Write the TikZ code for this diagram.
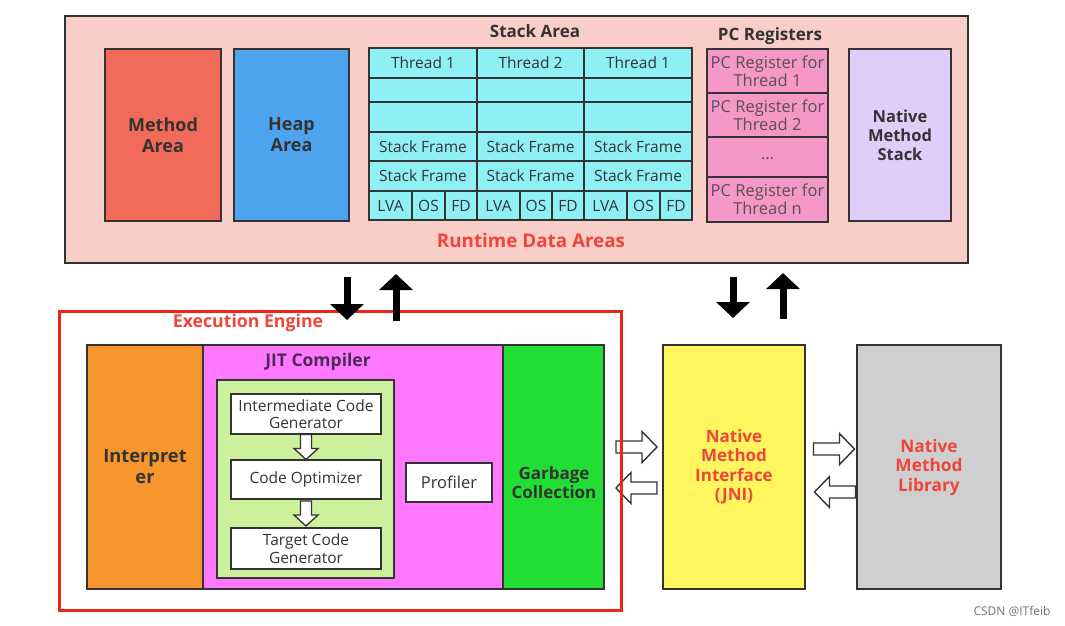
\documentclass[tikz,border=0pt]{standalone}
\usepackage{fontspec}
\setmainfont{Open Sans}
\usetikzlibrary{arrows.meta,calc}
\definecolor{edge}{HTML}{333333}
\definecolor{txt}{HTML}{333333}
\definecolor{rdafill}{HTML}{F9CDC8}
\definecolor{methodc}{HTML}{F26A5A}
\definecolor{heapc}{HTML}{4DA3EE}
\definecolor{stackc}{HTML}{8EF0F5}
\definecolor{pcc}{HTML}{F598C8}
\definecolor{pctxt}{HTML}{5B4F57}
\definecolor{nmsc}{HTML}{E1CDFA}
\definecolor{redtxt}{HTML}{F0453A}
\definecolor{redline}{HTML}{EE2418}
\definecolor{interpc}{HTML}{F7962D}
\definecolor{jitc}{HTML}{FF78FF}
\definecolor{jittxt}{HTML}{4B2A5A}
\definecolor{lgreen}{HTML}{CCF09B}
\definecolor{gcc}{HTML}{22DD33}
\definecolor{jnic}{HTML}{FFF55F}
\definecolor{libc}{HTML}{CFCFCF}
\newcommand\fs[2]{\fontsize{#1}{#2}\selectfont}
\newcommand\bx[7][]{\node[box,#1,minimum width={(#5-#3)*1pt},minimum height={(#6-#4)*1pt}] (#2) at (#3,#4) {#7};}
\tikzset{
  box/.style={draw=edge, line width=1.6pt, anchor=north west, inner sep=0pt, outer sep=0pt, align=center, text=txt},
  cellst/.style={fill=stackc, font=\fs{15.5}{17}, line width=1.5pt},
  pcst/.style={fill=pcc, font=\fs{16.5}{18}, text=pctxt, line width=1.5pt},
  wbox/.style={fill=white, font=\fs{15.5}{17.5}, line width=1.5pt},
  title/.style={font=\fs{17}{19}\bfseries, text=txt, inner sep=0pt},
  redtitle/.style={font=\fs{17.7}{20}\bfseries, text=redtxt, inner sep=0pt},
  blk/.style={line width=7pt, draw=black, -{Triangle[width=33pt,length=16pt]}},
  harrow/.pic={\draw[draw=edge, fill=white, line width=1.4pt, line join=miter]
      (-20.5,-6) -- (5.5,-6) -- (5.5,-15.5) -- (20.5,0) -- (5.5,15.5) -- (5.5,6) -- (-20.5,6) -- cycle;},
  harrowsm/.pic={\draw[draw=edge, fill=white, line width=1.3pt, line join=miter]
      (-12.5,-5.5) -- (1.5,-5.5) -- (1.5,-12) -- (12.5,0) -- (1.5,12) -- (1.5,5.5) -- (-12.5,5.5) -- cycle;},
}
\begin{document}
\begin{tikzpicture}[x=1pt,y=-1pt]
\useasboundingbox (0,0) rectangle (1065,625);
\fill[white] (0,0) rectangle (1065,625);
% Runtime data areas
\bx[fill=rdafill]{rda}{65}{16}{968}{263}{}
\bx[fill=methodc,font=\fs{18}{21}\bfseries]{method}{105}{49}{221}{221}{Method\\Area}
\bx[fill=heapc,font=\fs{18}{21}\bfseries]{heap}{234}{49}{349}{221}{Heap\\Area}
\node[title] (stacktitle) at (535,31) {Stack Area};
\foreach \k/\xl/\xr/\t in {1/369/477/{Thread 1},2/477/584/{Thread 2},3/584/692/{Thread 1}} {
  \bx[cellst]{th\k}{\xl}{48}{\xr}{78}{\t}
  \bx[cellst]{ea\k}{\xl}{78}{\xr}{102}{}
  \bx[cellst]{eb\k}{\xl}{102}{\xr}{132}{}
  \bx[cellst]{sfa\k}{\xl}{132}{\xr}{161}{Stack Frame}
  \bx[cellst]{sfb\k}{\xl}{161}{\xr}{191}{Stack Frame}
}
\foreach \k/\a/\b/\m/\d in {1/369/412/445/477,2/477/520/552/584,3/584/627/660/692} {
  \bx[cellst]{lva\k}{\a}{191}{\b}{220}{LVA}
  \bx[cellst]{os\k}{\b}{191}{\m}{220}{OS}
  \bx[cellst]{fd\k}{\m}{191}{\d}{220}{FD}
}
\node[title] (pctitle) at (770,36) {PC Registers};
\bx[pcst]{pc1}{707}{49}{828}{93}{PC Register for\\Thread 1}
\bx[pcst]{pc2}{707}{93}{828}{137}{PC Register for\\Thread 2}
\bx[pcst]{pc3}{707}{137}{828}{177}{\raisebox{-6pt}{...}}
\bx[pcst]{pc4}{707}{177}{828}{222}{PC Register for\\Thread n}
\bx[fill=nmsc,font=\fs{16.5}{19}\bfseries]{nms}{849}{49}{951}{221}{Native\\Method\\Stack}
\node[redtitle,font=\fs{18.8}{21}\bfseries] (rdatitle) at (531,240) {Runtime Data Areas};
% Execution engine
\bx[fill=interpc,font=\fs{18.3}{21}\bfseries]{interp}{87}{345}{203}{589}{Interpret\\er}
\bx[fill=jitc]{jit}{203}{345}{503}{589}{}
\node[title,font=\fs{17.5}{19}\bfseries,text=jittxt] (jittitle) at (318,362) {JIT Compiler};
\bx[fill=lgreen,line width=1.5pt]{jitin}{217}{380}{394}{578}{}
\bx[wbox]{icg}{231}{394}{381}{434}{Intermediate Code\\Generator}
\bx[wbox]{co}{231}{460}{381}{499}{Code Optimizer}
\bx[wbox]{tcg}{231}{528}{381}{569}{Target Code\\Generator}
\bx[wbox,font=\fs{16.5}{18}]{prof}{406}{463}{492}{502}{Profiler}
\path ($(icg.south)!0.5!(co.north)$) pic[rotate=-90] (a1) {harrowsm};
\path ($(co.south)!0.5!(tcg.north)$) pic[rotate=-90] (a2) {harrowsm};
\bx[fill=gcc]{gc}{503}{345}{604}{589}{}
\node[font=\fs{17}{19}\bfseries, text=txt, align=center, inner sep=0pt] (gctext) at (554,483) {Garbage\\Collection};
\bx[fill=jnic,font=\fs{17}{19.5}\bfseries,text=redtxt]{jni}{663}{345}{805}{589}{Native\\Method\\Interface\\(JNI)}
\bx[fill=libc,font=\fs{17.3}{19.5}\bfseries,text=redtxt]{lib}{857}{345}{1001}{589}{Native\\Method\\Library}
% hollow arrows
\path (636.5,447) pic (h1) {harrow};
\path (636.5,488) pic[rotate=180] (h2) {harrow};
\path (834,449) pic (h3) {harrow};
\path (835,492) pic[rotate=180] (h4) {harrow};
% red box
\node[draw=redline, line width=3pt, anchor=north west, inner sep=0pt, outer sep=0pt,
      minimum width=562pt, minimum height=299pt] (ee) at (59,311) {};
\node[redtitle] (eetitle) at (248,323) {Execution Engine};
% black arrows
\coordinate (d1s) at (347,277); \coordinate (d1e) at (347,320);
\coordinate (u1s) at (396,321); \coordinate (u1e) at (396,274);
\coordinate (d2s) at (733,277); \coordinate (d2e) at (733,318);
\coordinate (u2s) at (783,319); \coordinate (u2e) at (783,273);
\draw[blk] (d1s) -- (d1e);
\draw[blk] (u1s) -- (u1e);
\draw[blk] (d2s) -- (d2e);
\draw[blk] (u2s) -- (u2e);
\node[font=\fs{12}{14}, text=black!55, inner sep=0pt] (csdn) at (1012,611) {CSDN @ITfeib};
\end{tikzpicture}
\end{document}
